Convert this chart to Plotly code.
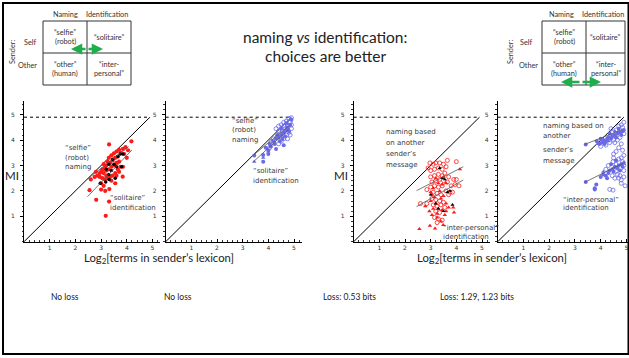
import plotly.graph_objects as go

W, H = 629, 358
MAX_BITS = 4.9

# ---------------- data ----------------
p1_red_x = [3.31,4.18,3.95,4.05,3.85,3.7,3.75,3.6,3.5,3.9,4.0,3.65,3.55,3.4,3.45,3.3,3.35,3.25,3.2,3.1,3.15,3.05,3.0,2.95,3.1,3.2,3.3,3.4,3.5,3.6,3.7,3.75,3.85,3.65,3.55,3.45,3.35,3.25,3.15,3.05,2.95,2.85,2.8,2.75,2.6,2.55,3.0,3.16,3.32,3.55,3.84,2.81,3.31,3.18,3.4,3.6,3.7,3.2,3.0,3.1]
p1_red_y = [3.83,3.95,3.72,3.6,3.65,3.62,3.5,3.55,3.48,3.45,3.3,3.35,3.3,3.4,3.2,3.3,3.1,3.15,3.0,3.05,2.9,2.85,2.75,2.7,2.7,2.8,2.85,2.95,3.0,3.1,3.15,2.95,2.95,2.85,2.7,2.6,2.55,2.5,2.45,2.5,2.55,2.6,2.75,2.55,2.45,2.03,2.05,2.0,2.07,2.3,2.56,1.65,1.58,1.02,2.4,2.6,2.75,2.6,2.3,2.2]
p1_blk_x = [2.97,3.18,3.31,3.3,3.3,3.4,3.5,3.6,3.65,3.75,3.85,3.45,3.2,3.55,3.8]
p1_blk_y = [2.3,2.35,2.45,2.65,3.05,2.8,3.05,2.95,3.35,3.45,3.45,3.25,2.85,2.5,2.95]

p2_fill_x = [3.45,3.8,3.8,4.0,4.3,4.6,3.9,4.05,4.2,4.3,4.4,4.5,4.6,4.7,4.75,4.85,4.9,4.1,4.25,4.45,4.55,4.65,4.8,4.0,4.35,4.5,4.7]
p2_fill_y = [3.39,3.41,3.15,3.45,3.65,3.8,3.7,3.85,3.95,4.05,4.1,4.2,4.3,4.4,4.5,4.6,4.8,3.75,3.85,3.95,4.05,4.15,4.35,3.6,4.2,4.45,4.65]
p2_open_x = [4.3,4.4,4.5,4.6,4.7,4.8,4.9,4.85,4.75,4.65,4.55,4.45,4.35,4.9,4.8,4.7,4.6,4.5,4.4,4.2,4.1,4.9,4.85,4.75,4.6,4.4,4.2,4.05]
p2_open_y = [4.45,4.55,4.6,4.7,4.75,4.85,4.88,4.7,4.55,4.45,4.35,4.25,4.15,4.6,4.3,4.2,4.05,3.95,3.85,4.05,3.95,4.45,4.2,4.05,4.55,4.35,3.9,3.7]
p2_tri_x = [3.45,3.8,4.0]
p2_tri_y = [3.15,3.3,3.55]

p3_open_x = [2.6,2.85,2.9,2.97,3.1,3.2,3.35,3.5,3.65,4.0,3.0,3.15,3.3,3.45,3.6,3.0,3.15,3.3,3.45,3.55,3.7,3.05,3.2,3.35,3.5,3.65,3.8,3.95,4.1,4.0,3.9,3.0,3.15,3.3,3.45,3.6,3.75,3.85,3.1,3.25,3.4,3.05,3.2,3.35,3.5,3.1,3.25,3.4,3.55,3.2,3.35,3.15,3.3,3.45,3.25,2.85,3.7]
p3_open_y = [1.5,2.05,2.9,3.1,3.05,3.1,3.1,3.05,3.2,3.15,2.8,2.85,2.9,2.85,2.95,2.55,2.6,2.65,2.6,2.7,2.55,2.35,2.4,2.45,2.4,2.35,2.2,2.25,2.2,2.45,2.45,2.15,2.2,2.15,2.2,2.0,1.95,1.95,1.95,1.9,1.85,1.7,1.65,1.6,1.55,1.45,1.4,1.45,1.35,1.2,1.15,0.95,0.9,0.85,0.75,1.5,1.85]
p3_tri_x = [2.56,2.97,3.17,3.49,3.88,3.91,4.14,2.79,2.95,3.0,3.05,3.1,3.15,3.2,3.25,3.3,3.35,3.4,3.45,3.5,3.55,3.6,3.3,3.45,3.2,3.1,3.0,3.6,3.7,3.25,3.4,3.05,3.5,3.6]
p3_tri_y = [0.5,0.63,0.52,0.66,1.35,1.15,2.85,1.4,1.2,1.6,1.85,1.3,1.75,1.5,1.1,1.3,2.0,1.7,1.25,1.8,1.05,1.5,2.3,2.25,2.5,2.1,1.95,1.2,1.35,0.95,0.8,1.05,2.55,2.3]
p3_blk_x = [3.0,3.2,3.3,3.5,3.65,3.75,3.45,3.55,3.85,3.35]
p3_blk_y = [1.85,1.5,1.3,1.2,1.95,2.0,2.5,2.45,1.45,2.9]

p4_fill_x = [3.42,3.85,3.95,4.05,4.1,4.2,4.25,4.3,4.4,4.45,4.55,4.6,4.65,4.75,4.8,4.85,4.9,4.0,4.15,4.35,4.7,
             3.42,3.83,3.77,3.77,4.0,4.1,4.2,4.3,4.35,4.45,4.5,4.55,4.65,4.7,4.8,4.9,4.25,4.6,4.75,4.4,4.85]
p4_fill_y = [3.83,3.95,3.85,3.9,4.0,3.95,4.05,4.1,4.05,4.15,4.2,4.1,4.25,4.3,4.2,4.35,4.4,4.05,3.85,4.25,4.45,
             2.35,2.25,2.1,2.05,2.55,2.65,2.6,2.7,2.8,2.85,2.75,2.95,2.9,3.0,3.05,3.1,2.5,3.2,2.8,3.05,2.95]
p4_open_x = [4.0,4.2,4.35,4.5,4.6,4.7,4.8,4.9,4.85,4.75,4.55,4.45,4.65,4.9,4.8,4.7,4.6,4.85,4.5,4.9,4.4,
             4.35,4.48,4.8,4.8,4.9,4.6,4.48,4.6,4.7,4.8,4.9,4.9,4.75,4.55,4.45,4.7,4.3,4.2,4.5,4.85,4.65,4.95]
p4_open_y = [3.75,3.8,3.9,4.0,4.4,4.55,4.6,4.7,4.5,4.1,3.9,4.3,4.0,4.25,3.85,3.7,3.55,3.6,3.45,3.4,4.45,
             2.06,2.03,2.3,2.43,2.55,2.76,3.15,3.05,3.25,3.3,3.0,2.8,2.6,2.5,2.6,2.5,3.0,2.85,3.3,3.15,2.65,2.2]
p4_tri_x = [3.9,4.3,4.55,4.1,4.5]
p4_tri_y = [3.85,3.95,4.35,2.75,2.9]

# regression segments per panel: (x0, y0, x1, y1)
reg_lines = {
    1: [(2.47, 2.47, 4.07, 3.74), (2.47, 1.77, 4.2, 3.61)],
    2: [(3.42, 3.41, 4.84, 4.59), (3.42, 3.15, 4.84, 4.46)],
    3: [(2.45, 2.01, 4.27, 2.95), (2.45, 1.38, 4.27, 2.43)],
    4: [(3.38, 3.83, 4.86, 4.42), (3.38, 2.34, 4.86, 3.08)],
}

tick_vals = [1, 2, 3, 4, 5]
bottom_labels = ["No loss", "No loss", "Loss: 0.53 bits", "Loss: 1.29, 1.23 bits"]

# ---------------- layout geometry (pixels) ----------------
def px(x):
    return x / W

def py(y):
    return 1 - y / H

panel_x = {1: (24, 160.2, 5.3), 2: (165.7, 301.7, 5.3), 3: (353.7, 489.7, 5.3), 4: (497.7, 629, 5.1)}
y_bottom, y_top, y_max = 241.7, 100.7, 5.55

RED = "#ff1a1a"
BLUE = "#6a6ae8"
BLK = "#000000"
GREEN = "#1fae4b"
TXT = "#3a3a3a"

fig = go.Figure()

def ax_name(i, kind):
    return kind if i == 1 else f"{kind}{i}"

def add_scatter(i, xs, ys, color, symbol, size=4, lw=1):
    fig.add_trace(go.Scatter(x=xs, y=ys, mode="markers", xaxis=ax_name(i, "x"), yaxis=ax_name(i, "y"),
                             marker=dict(color=color, symbol=symbol, size=size, line=dict(width=lw, color=color)),
                             showlegend=False, hoverinfo="skip"))

def add_line(i, xs, ys, color, width, dash="solid"):
    fig.add_trace(go.Scatter(x=xs, y=ys, mode="lines", xaxis=ax_name(i, "x"), yaxis=ax_name(i, "y"),
                             line=dict(color=color, width=width, dash=dash), showlegend=False, hoverinfo="skip"))

for i in range(1, 5):
    add_line(i, [0, MAX_BITS], [0, MAX_BITS], "black", 1)
    add_line(i, [0, MAX_BITS], [MAX_BITS, MAX_BITS], "black", 1, "dot")

add_scatter(1, p1_red_x, p1_red_y, RED, "circle", 4.2, 0)
add_scatter(1, p1_blk_x, p1_blk_y, BLK, "circle", 3.5, 0)

add_scatter(2, p2_open_x, p2_open_y, BLUE, "circle-open", 4, 0.8)
add_scatter(2, p2_fill_x, p2_fill_y, BLUE, "circle", 4, 0)
add_scatter(2, p2_tri_x, p2_tri_y, BLUE, "triangle-up", 4, 0)

add_scatter(3, p3_open_x, p3_open_y, RED, "circle-open", 4, 0.8)
add_scatter(3, p3_tri_x, p3_tri_y, RED, "triangle-up", 4, 0)
add_scatter(3, p3_blk_x, p3_blk_y, BLK, "triangle-up", 3.5, 0)

add_scatter(4, p4_open_x, p4_open_y, BLUE, "circle-open", 4, 0.8)
add_scatter(4, p4_fill_x, p4_fill_y, BLUE, "circle", 4, 0)
add_scatter(4, p4_tri_x, p4_tri_y, BLUE, "triangle-up", 4, 0)

for i, segs in reg_lines.items():
    for (x0, y0, x1, y1) in segs:
        add_line(i, [x0, x1], [y0, y1], "#555555", 0.8)

layout = dict(width=W, height=H, margin=dict(l=0, r=0, t=0, b=0),
              paper_bgcolor="white", plot_bgcolor="rgba(0,0,0,0)", showlegend=False)

for i in range(1, 5):
    x0p, x1p, xr = panel_x[i]
    common = dict(showgrid=False, zeroline=False, showline=True, linecolor="black", linewidth=1,
                  tickwidth=1, tickcolor="black",
                  tickvals=tick_vals, ticktext=[str(v) for v in tick_vals],
                  tickfont=dict(size=6, color="#333333", family="DejaVu Sans"),
                  fixedrange=True)
    layout[f"xaxis{'' if i == 1 else i}"] = dict(common, domain=[px(x0p), px(x1p)], range=[0, xr],
                                                 anchor=ax_name(i, "y"), ticks="inside", ticklen=3,
                                                 minor=dict(ticks="inside", ticklen=1.5, tickwidth=0.6,
                                                            tickcolor="#333333", dtick=0.2, tick0=0))
    layout[f"yaxis{'' if i == 1 else i}"] = dict(common, domain=[py(y_bottom), py(y_top)], range=[0, y_max],
                                                 anchor=ax_name(i, "x"), ticks="outside", ticklen=3,
                                                 ticklabelstandoff=4,
                                                 minor=dict(ticks="outside", ticklen=1.5, tickwidth=0.6,
                                                            tickcolor="#333333", dtick=0.2, tick0=0))
fig.update_layout(**layout)

ann = []
shapes = []

def text(x, y, s, size=7, color=TXT, family="DejaVu Sans", xanchor="left", angle=0):
    ann.append(dict(x=px(x), y=py(y), xref="paper", yref="paper", text=s, showarrow=False,
                    xanchor=xanchor, yanchor="middle", textangle=angle,
                    font=dict(size=size, color=color, family=family)))

# title
text(325, 37, "naming <i>vs</i> identification:", size=15.5, color="#222", family="Lato", xanchor="center")
text(325, 56, "choices are better", size=15.5, color="#222", family="Lato", xanchor="center")

# panel annotations
for j, s in enumerate(["“selfie”", "(robot)", "naming"]):
    text(63, 148 + j * 9.5, s)
for j, s in enumerate(["“solitaire”", "identification"]):
    text(108, 198 + j * 9.5, s)
for j, s in enumerate(["“selfie”", "(robot)", "naming"]):
    text(230, 121 + j * 9.3, s)
for j, s in enumerate(["“solitaire”", "identification"]):
    text(251, 171 + j * 10, s)
for j, s in enumerate(["naming based", "on another", "sender’s", "message"]):
    text(384, 132 + j * 11, s)
for j, s in enumerate(["“inter-personal”", "identification"]):
    text(441, 228 + j * 8.5, s)
for j, s in enumerate(["naming based on", "another", "sender’s", "message"]):
    text(541, 126 + [0, 9.5, 24, 35][j], s)
for j, s in enumerate(["“inter-personal”", "identification"]):
    text(561, 200 + j * 8.5, s)

# axis titles
text(12, 175.5, "MI", size=11.5, color="#222", family="Lato", xanchor="center")
text(341, 175.5, "MI", size=11.5, color="#222", family="Lato", xanchor="center")
xt = "Log<sub>2</sub>[terms in sender’s lexicon]"
text(159, 258, xt, size=11.3, color="#222", family="Lato", xanchor="center")
text(492, 258, xt, size=11.3, color="#222", family="Lato", xanchor="center")

# bottom labels
for cx, s in zip([65, 178, 350, 477], bottom_labels):
    text(cx, 297, s, size=8.5, color="#222", family="Lato", xanchor="center")

# tables
def table(x0, x1, xm, y0, y1, ym, hdr_n, hdr_i, self_x, other_x, sender_x, cells):
    shapes.append(dict(type="rect", xref="paper", yref="paper", x0=px(x0), x1=px(x1), y0=py(y1), y1=py(y0),
                       line=dict(color="#333", width=1)))
    shapes.append(dict(type="line", xref="paper", yref="paper", x0=px(xm), x1=px(xm), y0=py(y1), y1=py(y0),
                       line=dict(color="#333", width=1)))
    shapes.append(dict(type="line", xref="paper", yref="paper", x0=px(x0), x1=px(x1), y0=py(ym), y1=py(ym),
                       line=dict(color="#333", width=1)))
    fs = 7.3
    text(hdr_n, 14, "Naming", size=fs, color="#333", family="Lato", xanchor="center")
    text(hdr_i, 14, "Identification", size=fs, color="#333", family="Lato", xanchor="center")
    text(self_x, 42, "Self", size=fs, color="#333", family="Lato", xanchor="center")
    text(other_x, 66, "Other", size=fs, color="#333", family="Lato", xanchor="center")
    text(sender_x, 52, "Sender:", size=fs, color="#333", family="Lato", xanchor="center", angle=-90)
    c1, c2 = (x0 + xm) / 2, (xm + x1) / 2
    r1, r2 = (y0 + ym) / 2, (ym + y1) / 2
    for (cx, cy), lines in zip([(c1, r1), (c2, r1), (c1, r2), (c2, r2)], cells):
        n = len(lines)
        for k, s in enumerate(lines):
            text(cx, cy + (k - (n - 1) / 2) * 8.5, s, size=fs, color="#333", family="Lato", xanchor="center")

cells = [["“selfie”", "(robot)"], ["“solitaire”"], ["“other”", "(human)"], ["“inter-", "personal”"]]
table(43, 131, 87, 21, 85, 53, 65, 107, 30, 28, 13, cells)
table(542, 625, 586, 21, 85, 53, 561, 603, 526, 528, 511, cells)

def dbl_arrow(xa, xb, y):
    mid = (xa + xb) / 2
    for head in (xa, xb):
        ann.append(dict(x=px(head), y=py(y), xref="paper", yref="paper", ax=mid - head, ay=0,
                        axref="pixel", ayref="pixel", showarrow=True, arrowhead=2, arrowsize=0.9,
                        arrowwidth=2.5, arrowcolor=GREEN, text=""))

dbl_arrow(71, 103, 49)
dbl_arrow(561, 601, 82)

# slide frame
shapes.append(dict(type="rect", xref="paper", yref="paper", x0=px(3), x1=px(628.5), y0=py(354), y1=py(3),
                   line=dict(color="black", width=2)))

fig.update_layout(annotations=ann, shapes=shapes)
fig.write_html("out.html")
